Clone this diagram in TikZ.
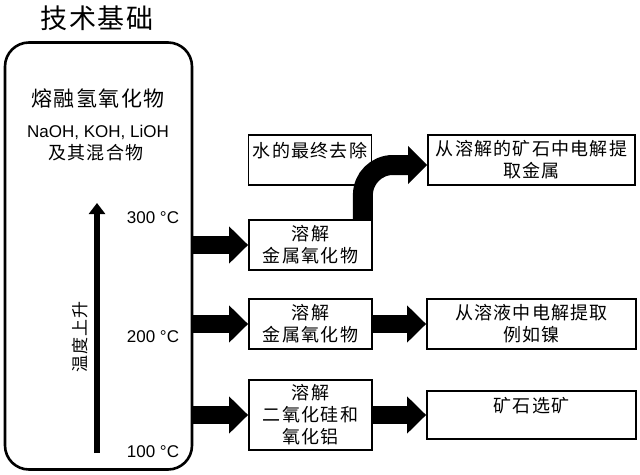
\documentclass[tikz,border=0pt]{standalone}
\usepackage{fontspec}
\setmainfont{Liberation Sans}
\newfontfamily\cjk[LetterSpace=7]{Noto Sans CJK SC}
\usetikzlibrary{arrows.meta,calc}
\begin{document}
\begin{tikzpicture}[x=1pt,y=-1pt,
  box/.style={draw, line width=1.8pt, inner sep=0pt, align=center,
    font=\cjk\fontsize{18}{22}\selectfont},
  cjktxt/.style={inner sep=0pt, align=center, font=\cjk\fontsize{18}{22}\selectfont},
  temp/.style={inner sep=0pt, font=\fontsize{17}{20}\selectfont},
  fatarrow/.style={line width=18pt, -{Triangle[length=19pt,width=36pt]}},
  curvearrow/.style={line width=20pt, rounded corners=30pt, -{Triangle[length=19pt,width=37pt]}},
  thinarrow/.style={line width=6.5pt, -{Triangle[length=11pt,width=16pt]}}]
\useasboundingbox (0,0) rectangle (640,474);
% title
\node[inner sep=0pt, font=\cjk\fontsize{27}{30}\selectfont] (title) at (97,18) {技术基础};
% base box
\node[draw, line width=2.6pt, rounded corners=24pt, minimum width=187pt, minimum height=427pt, inner sep=0pt] (base) at (98.5,256) {};
\node[inner sep=0pt, font=\cjk\fontsize{21}{24}\selectfont] (melt) at (98,98) {熔融氢氧化物};
\node[inner sep=0pt, font=\fontsize{17}{20}\selectfont] (naoh) at (98,132) {NaOH, KOH, LiOH};
\node[cjktxt] (mix) at (96,153) {及其混合物};
\coordinate (vb) at (97,453);
\coordinate (vt) at (97,203);
\draw[thinarrow] (vb) -- (vt);
\node[inner sep=0pt, rotate=90, font=\cjk\fontsize{17}{20}\selectfont] (rise) at (80,337) {温度上升};
\node[temp] (t300) at (153,218) {300 °C};
\node[temp] (t200) at (153,337) {200 °C};
\node[temp] (t100) at (153,452) {100 °C};
% boxes
\node[box, minimum width=123pt, minimum height=50pt] (W) at (310,160) {};
\node[cjktxt] (Wt) at ([yshift=-17pt]W.north) {水的最终去除};
\node[box, minimum width=207pt, minimum height=50pt] (E1) at (531.5,160) {从溶解的矿石中电解提\\取金属};
\node[box, minimum width=123pt, minimum height=50pt] (A1) at (310.5,245) {溶解\\金属氧化物};
\node[box, minimum width=123pt, minimum height=50pt] (B1) at (310.5,324) {溶解\\金属氧化物};
\node[box, minimum width=209pt, minimum height=50pt] (B2) at (531.5,324) {从溶液中电解提取\\例如镍};
\node[box, minimum width=123pt, minimum height=70pt] (C1) at (310.5,415) {溶解\\二氧化硅和\\氧化铝};
\node[box, minimum width=209pt, minimum height=48pt] (C2) at (531.5,415) {};
\node[cjktxt] (C2t) at ([yshift=-16pt]C2.north) {矿石选矿};
% arrows
\draw[fatarrow] (base.east |- A1.west) -- (A1.west);
\draw[fatarrow] (base.east |- B1.west) -- (B1.west);
\draw[fatarrow] (base.east |- C1.west) -- (C1.west);
\draw[fatarrow] (B1.east) -- (B2.west);
\draw[fatarrow] (C1.east) -- (C1.east -| C2.west);
\draw[curvearrow] ([xshift=-10pt]A1.north east) |- ([yshift=-5pt]E1.west);
\end{tikzpicture}
\end{document}
